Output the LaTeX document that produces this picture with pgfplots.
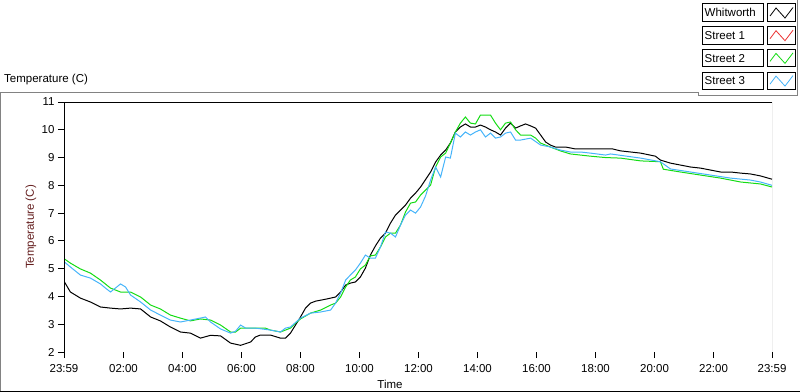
\documentclass[border=0pt]{standalone}
\usepackage{pgfplots}
\pgfplotsset{compat=1.18}
\usepackage{fontspec}
\setmainfont{Liberation Sans}
\definecolor{lvgreen}{RGB}{20,220,20}
\definecolor{lvblue}{RGB}{70,180,250}
\definecolor{lvred}{RGB}{235,50,50}
\definecolor{framegray}{RGB}{130,130,130}
\definecolor{ylab}{RGB}{100,30,30}

\pgfplotstableread{
h v
0 4.52
0.2 4.16
0.54 3.94
0.88 3.8
1.22 3.62
1.56 3.58
1.9 3.55
2.24 3.58
2.58 3.55
2.92 3.26
3.25 3.12
3.59 2.9
3.93 2.72
4.27 2.68
4.61 2.5
4.95 2.6
5.29 2.58
5.63 2.32
5.97 2.24
6.31 2.36
6.47 2.54
6.64 2.61
6.98 2.61
7.32 2.5
7.49 2.5
7.66 2.68
7.83 2.97
8.0 3.26
8.17 3.58
8.34 3.76
8.51 3.83
8.85 3.9
9.19 3.98
9.36 4.16
9.53 4.41
9.69 4.48
9.86 4.52
10.03 4.7
10.2 5.02
10.37 5.49
10.54 5.82
10.71 6.1
10.88 6.28
11.05 6.64
11.22 6.93
11.39 7.11
11.56 7.29
11.73 7.54
11.9 7.72
12.07 7.94
12.24 8.21
12.41 8.48
12.58 8.84
12.75 9.09
12.92 9.27
13.08 9.52
13.25 9.92
13.42 10.1
13.59 10.21
13.76 10.1
13.93 10.1
14.1 10.17
14.27 10.1
14.44 10.0
14.61 9.92
14.78 9.81
14.95 10.06
15.12 10.24
15.29 10.06
15.46 10.14
15.63 10.21
15.8 10.14
15.97 10.06
16.14 9.81
16.31 9.56
16.47 9.45
16.64 9.38
16.98 9.38
17.32 9.31
18.58 9.31
18.85 9.24
19.53 9.16
20.03 9.05
20.2 8.91
20.54 8.8
20.88 8.73
21.22 8.66
21.56 8.62
21.9 8.55
22.24 8.48
22.58 8.48
22.92 8.44
23.25 8.41
23.59 8.34
23.983 8.22
}\whitworth

\pgfplotstableread{
h v
0 5.35
0.2 5.2
0.54 4.99
0.88 4.84
1.22 4.59
1.56 4.3
1.9 4.16
2.24 4.16
2.58 3.98
2.92 3.69
3.25 3.55
3.59 3.33
3.93 3.22
4.27 3.12
4.61 3.19
4.95 3.15
5.29 2.97
5.63 2.72
5.8 2.72
5.97 2.86
6.31 2.86
6.81 2.86
6.98 2.79
7.32 2.72
7.66 2.86
7.83 3.04
8.0 3.19
8.34 3.4
8.68 3.51
9.02 3.69
9.19 3.76
9.36 3.98
9.53 4.34
9.69 4.59
9.86 4.7
10.03 4.99
10.2 5.13
10.37 5.46
10.54 5.49
10.71 5.78
10.88 6.14
11.05 6.28
11.22 6.28
11.39 6.57
11.56 7.04
11.73 7.36
11.9 7.4
12.07 7.65
12.24 7.83
12.41 8.01
12.58 8.66
12.75 9.02
12.92 9.16
13.08 9.52
13.25 9.92
13.42 10.24
13.59 10.46
13.76 10.24
13.93 10.21
14.1 10.53
14.27 10.53
14.44 10.53
14.61 10.24
14.78 10.0
14.95 10.24
15.12 10.28
15.29 10.0
15.46 9.81
15.8 9.81
15.97 9.7
16.14 9.52
16.47 9.38
16.81 9.24
17.15 9.13
17.49 9.09
17.83 9.05
18.34 9.0
18.85 8.98
19.53 8.88
20.2 8.85
20.3 8.58
20.88 8.48
21.56 8.37
22.24 8.26
22.92 8.12
23.59 8.05
23.983 7.94
}\streettwo

\pgfplotstableread{
h v
0 5.24
0.2 5.06
0.54 4.77
0.88 4.66
1.22 4.45
1.39 4.3
1.56 4.16
1.9 4.45
2.07 4.34
2.24 4.05
2.58 3.8
2.92 3.51
3.25 3.33
3.59 3.15
3.93 3.08
4.27 3.15
4.78 3.26
4.95 3.08
5.29 2.83
5.63 2.68
5.8 2.75
5.97 2.97
6.14 2.86
6.47 2.86
6.98 2.79
7.32 2.72
7.49 2.86
7.66 2.9
8.0 3.22
8.34 3.4
8.68 3.44
9.02 3.51
9.19 3.76
9.36 4.12
9.53 4.59
9.69 4.77
9.86 4.95
10.03 5.2
10.2 5.49
10.37 5.38
10.54 5.38
10.71 5.78
10.88 6.32
11.05 6.28
11.22 6.14
11.39 6.57
11.56 6.93
11.73 7.11
11.9 7.0
12.07 7.22
12.24 7.62
12.41 8.19
12.58 8.66
12.75 8.3
12.92 9.02
13.08 8.98
13.25 9.88
13.42 9.74
13.59 9.92
13.76 9.81
13.93 9.92
14.1 10.0
14.27 9.74
14.44 9.88
14.61 9.7
14.78 9.74
14.95 9.88
15.12 9.92
15.29 9.63
15.46 9.63
15.8 9.7
16.14 9.45
16.47 9.38
16.81 9.27
17.15 9.2
17.49 9.2
17.83 9.16
18.34 9.09
18.51 9.13
19.53 8.98
20.2 8.85
20.54 8.59
21.22 8.48
21.9 8.37
22.58 8.26
23.25 8.19
23.59 8.12
23.983 8.0
}\streetthree

\begin{document}
\begin{tikzpicture}[x=1bp,y=1bp,font=\fontsize{11.5bp}{13.5bp}\selectfont]
\useasboundingbox (0,0) rectangle (800bp,392bp);
% outer frame
\draw[framegray, line width=1bp] (0.5bp,0bp) -- (0.5bp,299.5bp) -- (698bp,299.5bp) -- (698bp,296.5bp) -- (797.5bp,296.5bp) -- (797.5bp,392bp);
\draw[black, line width=1bp] (0bp,0.5bp) -- (800bp,0.5bp);
% chart title
\node[anchor=west, inner sep=0] at (4bp,312bp) {Temperature (C)};
% y label
\node[rotate=90, inner sep=0, text=ylab] at (31bp,165bp) {Temperature (C)};
% x label
\node[inner sep=0] at (390bp,8bp) {Time};

\begin{axis}[
  at={(64bp,40bp)}, anchor=south west,
  scale only axis, width=708bp, height=250bp,
  xmin=-0.0167, xmax=23.983, ymin=2, ymax=11,
  axis line style={draw=none},
  xtick={-0.0167,2,4,6,8,10,12,14,16,18,20,22,23.983},
  xticklabels={23:59,02:00,04:00,06:00,08:00,10:00,12:00,14:00,16:00,18:00,20:00,22:00,23:59},
  ytick={2,3,...,11},
  minor x tick num=9,
  tick align=outside,
  tick pos=left,
  major tick length=6bp, minor tick length=3bp,
  every tick/.style={black, line width=1bp},
  /pgf/number format/assume math mode=true,
  ticklabel style={font=\fontsize{11.5bp}{13.5bp}\selectfont},
  xticklabel style={yshift=-3bp},
  clip=true,
]
\addplot[black, line width=1bp] table[x=h,y=v] {\whitworth};
\addplot[lvgreen, line width=1bp] table[x=h,y=v] {\streettwo};
\addplot[lvblue, line width=1bp] table[x=h,y=v] {\streetthree};
\draw[black, line width=1bp] (rel axis cs:0,0) -- (rel axis cs:0,1) -- (rel axis cs:1,1);
\draw[framegray, line width=1bp] (rel axis cs:1,1) -- (rel axis cs:1,0) -- (rel axis cs:0,0);
\end{axis}

% legend
\foreach \i/\name/\col in {0/Whitworth/black,1/Street 1/lvred,2/Street 2/lvgreen,3/Street 3/lvblue} {
  \pgfmathsetmacro\yt{388-22.7*\i}
  \draw[black, line width=1bp] (702.5bp,\yt bp) rectangle (763.5bp,\yt bp-17.5bp);
  \node[anchor=west, inner sep=0] at (704.5bp,\yt bp-8.75bp) {\name};
  \draw[black, line width=1bp] (767.5bp,\yt bp) rectangle (795.5bp,\yt bp-17.5bp);
  \draw[\col, line width=0.8bp] (770bp,\yt bp-12bp) -- (776bp,\yt bp-4bp) -- (785bp,\yt bp-14bp) -- (793bp,\yt bp-3.5bp);
}
\end{tikzpicture}
\end{document}
